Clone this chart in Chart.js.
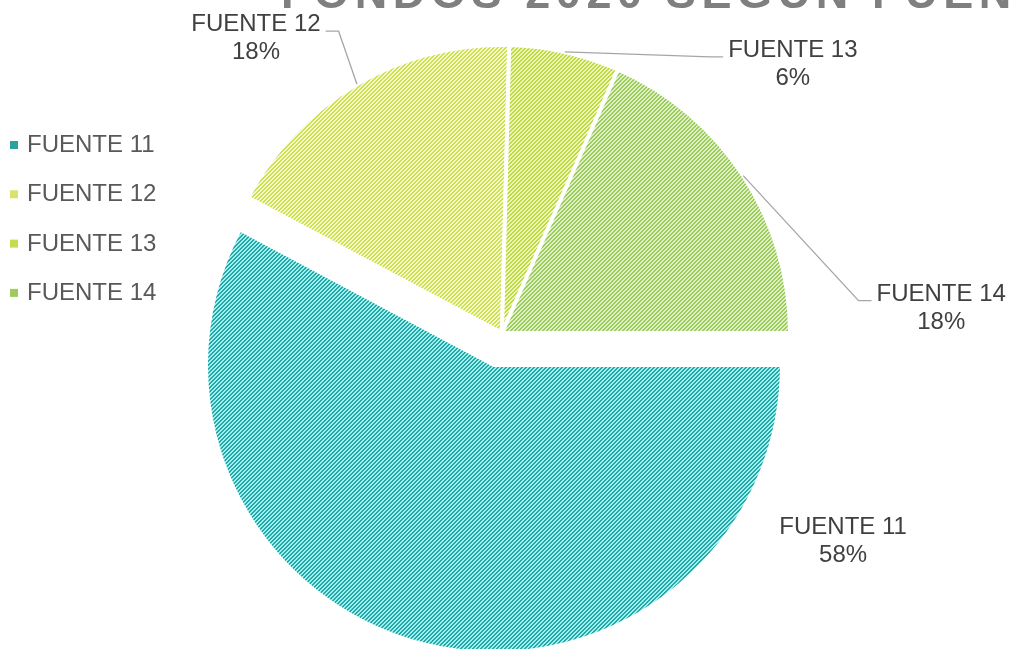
<!DOCTYPE html>
<html>
<head>
<meta charset="utf-8">
<script src="https://cdn.jsdelivr.net/npm/chart.js@4.4.1/dist/chart.umd.min.js"></script>
<style>
  html, body { margin: 0; padding: 0; background: #fff; }
  #wrap { width: 1011px; height: 649px; }
</style>
</head>
<body>
<div id="wrap"><canvas id="fondosChart" width="1011" height="649"></canvas></div>
<script>
// datos
const fuentes = ["FUENTE 11", "FUENTE 12", "FUENTE 13", "FUENTE 14"];
const porcentajes = [57.8, 17.6, 6.2, 18.4];
const tituloGrafico = "FONDOS 2020 SEGÚN FUENTE";

// colores del rayado (fondo / raya) y del marcador de la leyenda
const fondoPatron = ["#9cf1f0", "#f3f8d2", "#ecf5c0", "#dff0c8"];
const rayaPatron = ["#28a6a6", "#cfe04c", "#c0da3e", "#9bcb58"];
const colorLeyenda = ["#2f9fa4", "#d7e36b", "#c3dc52", "#9dcb5e"];

// disposicion: porcion separada (px), desplazamiento de etiquetas desde el borde del arco
const separacion = [33, 0, 0, 0];
const etiquetaDesfase = [[419, -110], [-101, -53], [228, 5], [198, 125]];
const etiquetaGuia = [false, true, true, true];

const fuenteTexto = "'Liberation Sans', Arial, sans-serif";

function crearRayado(fondo, raya) {
    const size = 4;
    const c = document.createElement("canvas");
    c.width = size;
    c.height = size;
    const g = c.getContext("2d");
    g.fillStyle = fondo;
    g.fillRect(0, 0, size, size);
    g.fillStyle = raya;
    for (let x = 0; x < size; x++) {
        for (let y = 0; y < size; y++) {
            if ((x + y) % size < 2) g.fillRect(x, y, 1, 1);
        }
    }
    return g.createPattern(c, "repeat");
}

// mueve la porcion separada sin agrandar su radio
const separarPorcion = {
    id: "separarPorcion",
    afterDatasetsUpdate(chart) {
        const area = chart.chartArea;
        const cx = (area.left + area.right) / 2;
        const cy = (area.top + area.bottom) / 2;
        chart.getDatasetMeta(0).data.forEach((arc, i) => {
            const medio = (arc.startAngle + arc.endAngle) / 2;
            arc.x = cx + Math.cos(medio) * separacion[i];
            arc.y = cy + Math.sin(medio) * separacion[i];
        });
    }
};

const tituloCortado = {
    id: "tituloCortado",
    afterDraw(chart) {
        const ctx = chart.ctx;
        ctx.save();
        ctx.font = "bold 45px " + fuenteTexto;
        ctx.letterSpacing = "5.6px";
        ctx.fillStyle = "#7f7f7f";
        ctx.textBaseline = "alphabetic";
        ctx.fillText(tituloGrafico, 281, 8);
        ctx.restore();
    }
};

const leyenda = {
    id: "leyendaIzq",
    afterDraw(chart) {
        const ctx = chart.ctx;
        ctx.save();
        ctx.font = "24px " + fuenteTexto;
        ctx.textBaseline = "alphabetic";
        chart.data.labels.forEach((nombre, i) => {
            const base = 152 + i * 49.3;
            ctx.fillStyle = colorLeyenda[i];
            ctx.fillRect(10, base - 11, 8, 8);
            ctx.fillStyle = "#595959";
            ctx.fillText(nombre, 27, base);
        });
        ctx.restore();
    }
};

const etiquetas = {
    id: "etiquetas",
    afterDraw(chart) {
        const ctx = chart.ctx;
        const data = chart.data.datasets[0].data;
        const total = data.reduce((a, b) => a + b, 0);
        ctx.save();
        ctx.font = "24px " + fuenteTexto;
        ctx.textAlign = "center";
        ctx.textBaseline = "alphabetic";
        chart.getDatasetMeta(0).data.forEach((arc, i) => {
            const medio = (arc.startAngle + arc.endAngle) / 2;
            const px = arc.x + Math.cos(medio) * arc.outerRadius;
            const py = arc.y + Math.sin(medio) * arc.outerRadius;
            const tx = px + etiquetaDesfase[i][0];
            const ty = py + etiquetaDesfase[i][1];
            const nombre = chart.data.labels[i];
            const pct = Math.round(data[i] / total * 100) + "%";
            if (etiquetaGuia[i]) {
                const mitad = ctx.measureText(nombre).width / 2 + 5;
                const lado = tx > px ? -1 : 1;
                const finX = tx + lado * mitad;
                const codoX = finX + lado * 13;
                ctx.strokeStyle = "#a6a6a6";
                ctx.lineWidth = 1.3;
                ctx.beginPath();
                ctx.moveTo(px, py);
                ctx.lineTo(codoX, ty);
                ctx.lineTo(finX, ty);
                ctx.stroke();
            }
            ctx.fillStyle = "#404040";
            ctx.fillText(nombre, tx, ty);
            ctx.fillText(pct, tx, ty + 28);
        });
        ctx.restore();
    }
};

new Chart(document.getElementById("fondosChart"), {
    type: "pie",
    data: {
        labels: fuentes,
        datasets: [{
            data: porcentajes,
            backgroundColor: fuentes.map((f, i) => crearRayado(fondoPatron[i], rayaPatron[i])),
            borderColor: "#ffffff",
            borderWidth: 4,
            clip: false
        }]
    },
    options: {
        responsive: false,
        animation: false,
        events: [],
        rotation: 90,
        radius: 288,
        layout: { padding: { left: 0, right: 7, top: 17, bottom: 0 } },
        plugins: {
            legend: { display: false },
            title: { display: false },
            tooltip: { enabled: false }
        }
    },
    plugins: [separarPorcion, tituloCortado, leyenda, etiquetas]
});
</script>
</body>
</html>
